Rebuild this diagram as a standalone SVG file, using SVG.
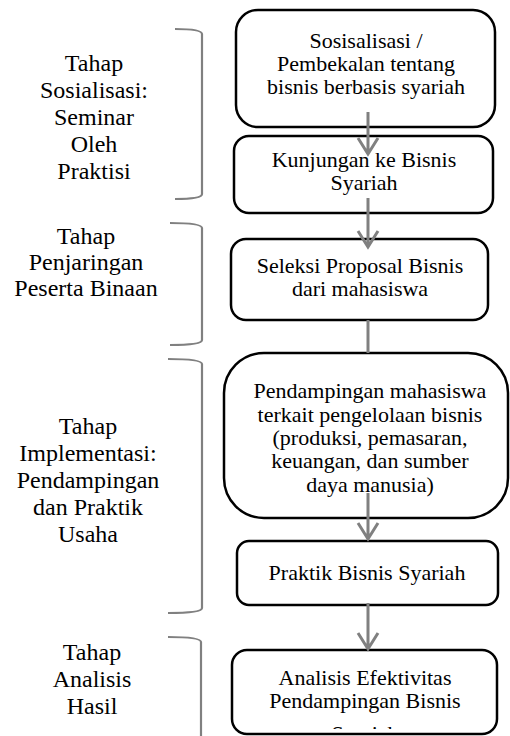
<svg xmlns="http://www.w3.org/2000/svg" width="510" height="736" viewBox="0 0 510 736">
<style>
.box{fill:#fff;stroke:#000;stroke-width:2.5}
.br{fill:none;stroke:#808080;stroke-width:2.2}
.con{fill:none;stroke:#808080;stroke-width:3}
.lt{font-family:"Liberation Serif",serif;font-size:24px;fill:#000;text-anchor:middle}
.rt{font-family:"Liberation Serif",serif;font-size:22px;fill:#000;text-anchor:middle}
</style>
<defs>
<clipPath id="c6"><rect x="230" y="648" width="270" height="81"/></clipPath>
</defs>
<rect width="510" height="736" fill="#fff"/>
<g id="phases">
<g id="phase1">
<path class="br" d="M175,29 Q202,29 202,34 L202,194 Q202,199 175,199"/>
<text class="lt"><tspan x="94" y="71">Tahap</tspan><tspan x="94" y="98">Sosialisasi:</tspan><tspan x="94" y="125">Seminar</tspan><tspan x="94" y="152">Oleh</tspan><tspan x="94" y="179">Praktisi</tspan></text>
</g>
<g id="phase2">
<path class="br" d="M170,223 Q202,223 202,228 L202,340 Q202,345 170,345"/>
<text class="lt"><tspan x="86" y="244">Tahap</tspan><tspan x="86" y="270">Penjaringan</tspan><tspan x="86" y="296">Peserta Binaan</tspan></text>
</g>
<g id="phase3">
<path class="br" d="M168,359 Q202,359 202,364 L202,608 Q202,613 168,613"/>
<text class="lt"><tspan x="88" y="434">Tahap</tspan><tspan x="88" y="461">Implementasi:</tspan><tspan x="88" y="488">Pendampingan</tspan><tspan x="88" y="515">dan Praktik</tspan><tspan x="88" y="542">Usaha</tspan></text>
</g>
<g id="phase4">
<path class="br" d="M168,637 Q201,637 201,642 L201,740"/>
<text class="lt"><tspan x="92" y="660">Tahap</tspan><tspan x="92" y="687">Analisis</tspan><tspan x="92" y="714">Hasil</tspan></text>
</g>
</g>
<g id="nodes">
<g id="n1">
<rect class="box" x="236" y="10" width="259" height="117" rx="22"/>
<text class="rt"><tspan x="366" y="48">Sosisalisasi /</tspan><tspan x="366" y="71">Pembekalan tentang</tspan><tspan x="366" y="94">bisnis berbasis syariah</tspan></text>
</g>
<g id="n2">
<rect class="box" x="234" y="136" width="259" height="77" rx="15"/>
<text class="rt"><tspan x="364" y="167">Kunjungan ke Bisnis</tspan><tspan x="364" y="190">Syariah</tspan></text>
</g>
<g id="n3">
<rect class="box" x="231" y="239" width="257" height="81" rx="15"/>
<text class="rt"><tspan x="360" y="273">Seleksi Proposal Bisnis</tspan><tspan x="360" y="296">dari mahasiswa</tspan></text>
</g>
<g id="n4">
<rect class="box" x="224" y="353" width="284" height="165" rx="40"/>
<text class="rt"><tspan x="370" y="398">Pendampingan mahasiswa</tspan><tspan x="370" y="422">terkait pengelolaan bisnis</tspan><tspan x="370" y="445">(produksi, pemasaran,</tspan><tspan x="370" y="468">keuangan, dan sumber</tspan><tspan x="370" y="492">daya manusia)</tspan></text>
</g>
<g id="n5">
<rect class="box" x="237" y="541" width="261" height="64" rx="12"/>
<text class="rt" x="367" y="580">Praktik Bisnis Syariah</text>
</g>
<g id="n6">
<rect class="box" x="232" y="650" width="265" height="84" rx="15"/>
<text class="rt" clip-path="url(#c6)"><tspan x="365" y="685">Analisis Efektivitas</tspan><tspan x="365" y="708">Pendampingan Bisnis</tspan><tspan x="365" y="741">Syariah</tspan></text>
</g>
</g>
<g id="connectors">
<path class="con" d="M368,112 V154 M358,138 L368,154 L378,138"/>
<path class="con" d="M368,198 V247 M358,231 L368,247 L378,231"/>
<path class="con" d="M368,320 V353"/>
<path class="con" d="M368,493 V539 M358,523 L368,539 L378,523"/>
<path class="con" d="M368,603 V649 M358,633 L368,649 L378,633"/>
</g>
</svg>
